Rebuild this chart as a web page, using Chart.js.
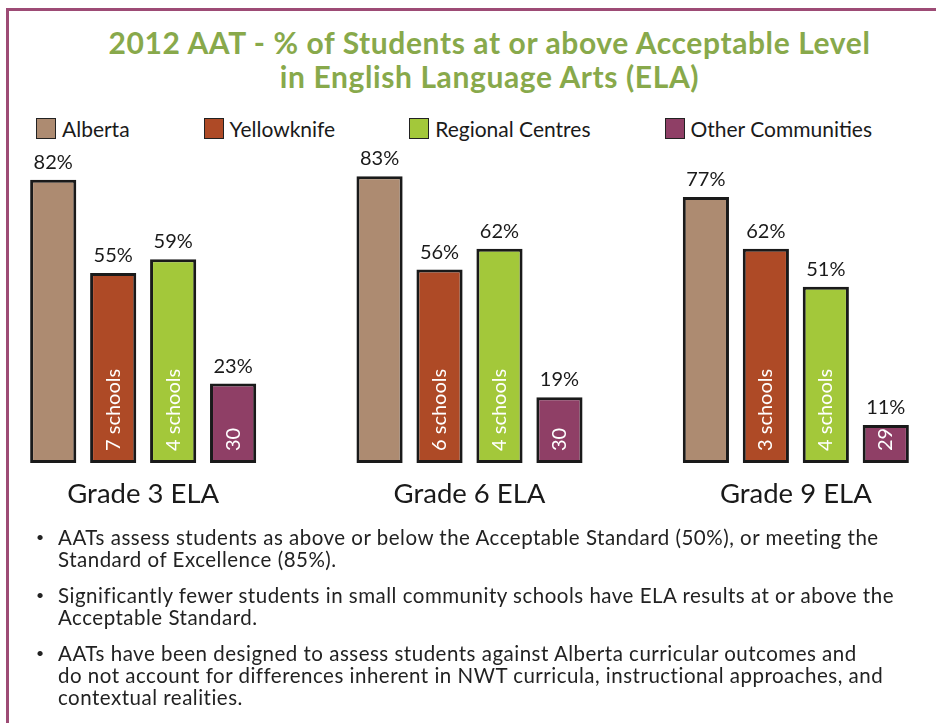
<!DOCTYPE html>
<html>
<head>
<meta charset="utf-8">
<script src="https://cdn.jsdelivr.net/npm/chart.js@4.4.1/dist/chart.umd.min.js"></script>
<style>
  body { margin: 0; background: #fff; font-family: Lato, sans-serif; color: #1a1a1a; }
  #page { position: relative; width: 936px; height: 723px; overflow: hidden; }
  #frame { position: absolute; left: 6px; top: 8px; width: 1000px; height: 800px;
           border-left: 3px solid #9d4b75; border-top: 3px solid #9d4b75; }
  #title { position: absolute; left: 43px; width: 893px; top: 25px; text-align: center;
           font-weight: 700; font-size: 30px; letter-spacing: 0.6px; line-height: 34px; color: #88a94b; }
  #legend { position: absolute; left: 36px; top: 117px; display: flex; gap: 74px; font-size: 21px; }
  #legend .item { display: flex; align-items: center; height: 22px; }
  #legend .box { width: 18px; height: 19px; border: 1.5px solid #222; margin-right: 6px; }
  #chartWrap { position: absolute; left: -20px; top: 140px; }
  #notes { position: absolute; left: 0; top: 526px; font-size: 20.5px; letter-spacing: 0.5px; line-height: 22px; color: #222; }
  #notes p { position: relative; margin: 0 0 14px 0; padding-left: 58px; white-space: nowrap; }
  #notes p::before { content: "\2022"; position: absolute; left: 36px; font-size: 14px; }
</style>
</head>
<body>
<div id="page">
  <div id="frame"></div>
  <div id="title">2012 AAT - % of Students at or above Acceptable Level<br>in English Language Arts (ELA)</div>
  <div id="legend"></div>
  <div id="chartWrap"><canvas id="elaChart" width="979" height="395"></canvas></div>
  <div id="notes">
    <p>AATs assess students as above or below the Acceptable Standard (50%), or meeting the<br>Standard of Excellence (85%).</p>
    <p>Significantly fewer students in small community schools have ELA results at or above the<br>Acceptable Standard.</p>
    <p>AATs have been designed to assess students against Alberta curricular outcomes and<br>do not account for differences inherent in NWT curricula, instructional approaches, and<br>contextual realities.</p>
  </div>
</div>
<script>
// data
const grades = ['Grade 3 ELA', 'Grade 6 ELA', 'Grade 9 ELA'];
const alberta = [82, 83, 77];
const yellowknife = [55, 56, 62];
const regionalCentres = [59, 62, 51];
const otherCommunities = [23, 19, 11];
// number of schools written inside the bars
const yellowknifeSchools = ['7 schools', '6 schools', '3 schools'];
const regionalSchools = ['4 schools', '4 schools', '4 schools'];
const otherSchools = ['30', '30', '29'];

// draws the % above each bar and the school count rotated inside it
const barLabels = {
    id: 'barLabels',
    afterDatasetsDraw(chart) {
        const ctx = chart.ctx;
        chart.data.datasets.forEach((ds, i) => {
            chart.getDatasetMeta(i).data.forEach((bar, j) => {
                ctx.save();
                ctx.font = '20px Lato';
                ctx.fillStyle = '#1a1a1a';
                ctx.textAlign = 'center';
                ctx.fillText(ds.data[j] + '%', bar.x, bar.y - 11);
                if (ds.schools) {
                    ctx.translate(bar.x, bar.base - 12);
                    ctx.rotate(-Math.PI / 2);
                    ctx.textAlign = 'left';
                    ctx.textBaseline = 'middle';
                    ctx.fillStyle = '#fff';
                    ctx.fillText(ds.schools[j], 0, 0);
                }
                ctx.restore();
            });
        });
    }
};

let ctx = document.getElementById('elaChart').getContext('2d');
let elaChart = new Chart(ctx, {
    type: 'bar',
    data: {
        labels: grades,
        datasets: [
            { label: 'Alberta', data: alberta, backgroundColor: '#ad8b71' },
            { label: 'Yellowknife', data: yellowknife, backgroundColor: '#ae4a26', schools: yellowknifeSchools },
            { label: 'Regional Centres', data: regionalCentres, backgroundColor: '#a3c83a', schools: regionalSchools },
            { label: 'Other Communities', data: otherCommunities, backgroundColor: '#8f3f66', schools: otherSchools }
        ]
    },
    options: {
        responsive: false,
        animation: false,
        devicePixelRatio: 1,
        layout: { padding: { left: 0, right: 0, top: 19, bottom: 9 } },
        datasets: {
            bar: {
                categoryPercentage: 0.735,
                barPercentage: 0.77,
                borderWidth: 3,
                borderColor: '#1a1a1a',
                borderSkipped: false
            }
        },
        scales: {
            x: {
                grid: { display: false, drawTicks: false },
                border: { display: false },
                ticks: { padding: 15, color: '#1a1a1a', font: { family: 'Lato', size: 27.5 } }
            },
            y: { display: false, min: 0, max: 88 }
        },
        plugins: {
            legend: { display: false },
            title: { display: false },
            tooltip: { enabled: false }
        }
    },
    plugins: [barLabels]
});

// legend built from the datasets
const legend = document.getElementById('legend');
elaChart.data.datasets.forEach(ds => {
    const item = document.createElement('div');
    item.className = 'item';
    item.innerHTML = '<span class="box" style="background:' + ds.backgroundColor + '"></span>' + ds.label;
    legend.appendChild(item);
});
</script>
</body>
</html>
